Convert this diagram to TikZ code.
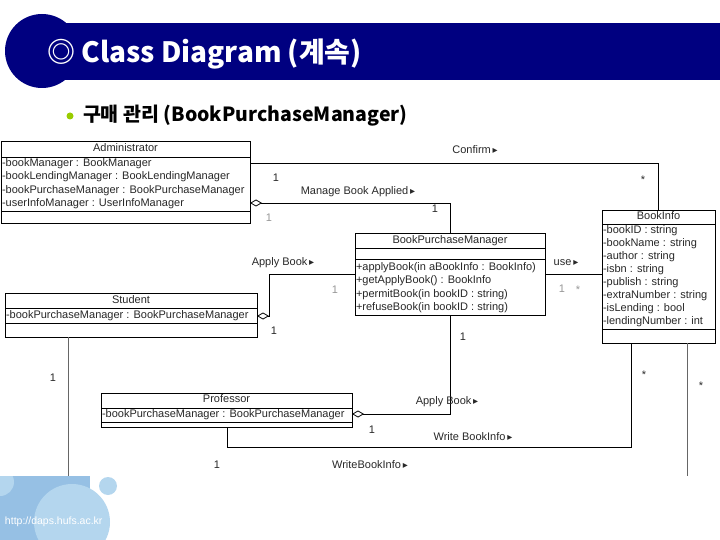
\documentclass[tikz,border=0pt]{standalone}
\usepackage{fontspec}
\setmainfont{Liberation Sans}
\newfontfamily\kr{Noto Sans CJK KR}
\newfontfamily\dv{DejaVu Sans}
\usetikzlibrary{arrows.meta}
\definecolor{navy}{RGB}{0,0,128}
\definecolor{bgreen}{RGB}{153,204,0}
\definecolor{txt}{RGB}{40,40,40}
\definecolor{lite}{RGB}{150,150,150}
\definecolor{decoA}{RGB}{150,192,228}
\definecolor{decoB}{RGB}{180,214,238}
\newcommand\tri{\,{\dv\fontsize{10}{10}\selectfont ▸}}
\begin{document}
\begin{tikzpicture}[x=1pt,y=-1pt,
  every node/.style={inner sep=0pt, outer sep=0pt, font=\fontsize{11}{13}\selectfont, text=txt},
  umlbox/.style={draw=black, line width=0.8pt, fill=white, anchor=north west},
  attr/.style={anchor=west, text height=8pt, text depth=2.5pt},
  hdr/.style={anchor=center, text height=8pt, text depth=2.5pt},
  assoc/.style={draw=black, line width=0.8pt},
  agg/.style={assoc, {Diamond[open,length=12pt,width=7pt,line width=0.8pt]}-},
  mult/.style={anchor=center},
  faint/.style={anchor=center, text=lite},
  grayline/.style={draw=black!60, line width=0.8pt}]
\useasboundingbox (0,0) rectangle (720,540);

% title band
\fill[navy] (40,23) rectangle (720,80);
\fill[navy] (42,51) circle[radius=37];
\node[anchor=west, text=white, font=\kr\bfseries\fontsize{28}{30}\selectfont] (title) at (47,54) {◎ Class Diagram (계속)};
\fill[bgreen] (70,116) circle[radius=3.5];
\node[anchor=west, text=black, font=\kr\bfseries\fontsize{19.5}{22}\selectfont] (sub) at (83,116) {구매 관리 (BookPurchaseManager)};

% bottom-left decoration
\begin{scope}
\clip (0,476) rectangle (720,540);
\fill[decoA] (0,476) rectangle (90,540);
\fill[decoB] (72,522) circle[radius=38];
\fill[decoB] (108,486) circle[radius=9];
\fill[decoB] (0,482) circle[radius=14];
\end{scope}
\node[anchor=west, text=white, font=\fontsize{10.5}{12}\selectfont] (url) at (5,522) {http://daps.hufs.ac.kr};

% ---------- classes ----------
% Administrator
\node[umlbox, minimum width=249pt, minimum height=82pt] (adm) at (1,141) {};
\draw[line width=0.8pt] (adm.west |- 0,157) -- (adm.east |- 0,157);
\draw[line width=0.8pt] (adm.west |- 0,211) -- (adm.east |- 0,211);
\node[hdr] (admh) at (adm.north |- 0,149) {Administrator};
\node[attr] (adm1) at (2,164) {-bookManager : BookManager};
\node[attr] (adm2) at (2,177) {-bookLendingManager : BookLendingManager};
\node[attr] (adm3) at (2,190.5) {-bookPurchaseManager : BookPurchaseManager};
\node[attr] (adm4) at (2,204) {-userInfoManager : UserInfoManager};

% BookPurchaseManager
\node[umlbox, minimum width=190pt, minimum height=82pt] (bpm) at (355,233) {};
\draw[line width=0.8pt] (bpm.west |- 0,248) -- (bpm.east |- 0,248);
\draw[line width=0.8pt] (bpm.west |- 0,259) -- (bpm.east |- 0,259);
\node[hdr] (bpmh) at (bpm.north |- 0,240.5) {BookPurchaseManager};
\node[attr] (bpm1) at (356,267.5) {+applyBook(in aBookInfo : BookInfo)};
\node[attr] (bpm2) at (356,281) {+getApplyBook() : BookInfo};
\node[attr] (bpm3) at (356,294.5) {+permitBook(in bookID : string)};
\node[attr] (bpm4) at (356,308) {+refuseBook(in bookID : string)};

% Student
\node[umlbox, minimum width=252pt, minimum height=44pt] (stu) at (5,293) {};
\draw[line width=0.8pt] (stu.west |- 0,308) -- (stu.east |- 0,308);
\draw[line width=0.8pt] (stu.west |- 0,323) -- (stu.east |- 0,323);
\node[hdr] (stuh) at (stu.north |- 0,300.5) {Student};
\node[attr] (stu1) at (6,315.5) {-bookPurchaseManager : BookPurchaseManager};

% BookInfo
\node[umlbox, minimum width=113pt, minimum height=133pt] (bi) at (602,210) {};
\draw[line width=0.8pt] (bi.west |- 0,224) -- (bi.east |- 0,224);
\draw[line width=0.8pt] (bi.west |- 0,329) -- (bi.east |- 0,329);
\node[hdr] (bih) at (bi.north |- 0,217) {BookInfo};
\node[attr] (bi1) at (603,231) {-bookID : string};
\node[attr] (bi2) at (603,244) {-bookName : string};
\node[attr] (bi3) at (603,257) {-author : string};
\node[attr] (bi4) at (603,270) {-isbn : string};
\node[attr] (bi5) at (603,283) {-publish : string};
\node[attr] (bi6) at (603,296) {-extraNumber : string};
\node[attr] (bi7) at (603,309) {-isLending : bool};
\node[attr] (bi8) at (603,322) {-lendingNumber : int};

% Professor
\node[umlbox, minimum width=251pt, minimum height=34pt] (prof) at (101,393) {};
\draw[line width=0.8pt] (prof.west |- 0,408) -- (prof.east |- 0,408);
\draw[line width=0.8pt] (prof.west |- 0,422) -- (prof.east |- 0,422);
\node[hdr] (profh) at (prof.north |- 0,400) {Professor};
\node[attr] (prof1) at (102,415) {-bookPurchaseManager : BookPurchaseManager};

% ---------- connectors ----------
\draw[assoc] (adm.east |- 0,163) -| (bi.north);
\draw[agg] (adm.east |- 0,203) -| (bpm.north);
\draw[agg] (stu.east |- 0,316) -- (269,316) |- (bpm.west |- 0,274);
\draw[assoc] (bpm.east |- 0,274) -- (bi.west |- 0,274);
\draw[agg] (prof.east |- 0,414) -| (bpm.south);
\draw[assoc] (prof.south -| 227,0) -- (227,447) -| (bi.south -| 631,0);
\coordinate (stuEnd) at (68,476);
\coordinate (biEnd) at (687,476);
\draw[grayline] (stu.south -| stuEnd) -- (stuEnd);
\draw[grayline] (bi.south -| biEnd) -- (biEnd);

% ---------- labels ----------
\node[mult] (l1) at (475,150) {Confirm\tri};
\node[mult] (m1) at (276,178) {1};
\node[mult] (m2) at (643,180) {*};
\node[mult] (l2) at (358,192) {Manage Book Applied\tri};
\node[mult] (m3) at (435,209) {1};
\node[faint] (m4) at (269,218) {1};
\node[mult] (l3) at (283,263) {Apply Book\tri};
\node[faint] (m5) at (335,290) {1};
\node[mult] (m6) at (274,331) {1};
\node[mult] (l4) at (566,263) {use\tri};
\node[faint] (m7) at (562,289) {1};
\node[faint] (m8) at (578,290) {*};
\node[mult] (m9) at (463,337) {1};
\node[mult] (m10) at (53,378) {1};
\node[mult] (l5) at (447,402) {Apply Book\tri};
\node[mult] (m11) at (372,430) {1};
\node[mult] (l6) at (473,437) {Write BookInfo\tri};
\node[mult] (m12) at (644,375) {*};
\node[mult] (m13) at (701,386) {*};
\node[mult] (m14) at (217,465) {1};
\node[mult] (l7) at (370,465) {WriteBookInfo\tri};
\end{tikzpicture}
\end{document}
